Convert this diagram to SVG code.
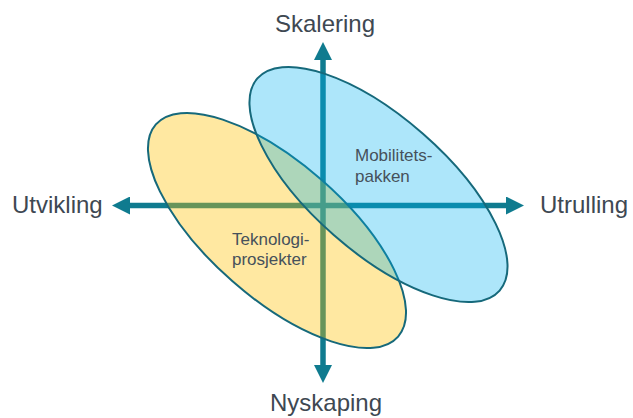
<svg xmlns="http://www.w3.org/2000/svg" width="633" height="418" viewBox="0 0 633 418">
  <style>
    .axis { stroke: #0f7b8f; stroke-width: 5.5; fill: none; }
    .ell { stroke: #16697b; stroke-width: 2; }
    .yellow { fill: #FFC000; fill-opacity: 0.37; }
    .blue { fill: #00B0F0; fill-opacity: 0.32; }
    .big { font-family: "Liberation Sans", Arial, sans-serif; font-size: 24px; fill: #3e4852; }
    .small { font-family: "Liberation Sans", Arial, sans-serif; font-size: 17px; fill: #46515b; }
  </style>
  <defs>
    <marker id="head" viewBox="0 0 18 18" markerWidth="18" markerHeight="18" refX="0" refY="9" orient="auto-start-reverse" markerUnits="userSpaceOnUse">
      <path d="M0,0 L18,9 L0,18 z" fill="#0f7b8f"/>
    </marker>
  </defs>
  <rect width="633" height="418" fill="#ffffff"/>
  <g id="connectors">
    <line class="axis" x1="130" y1="205.5" x2="506" y2="205.5" marker-start="url(#head)" marker-end="url(#head)"/>
    <line class="axis" x1="323" y1="60" x2="323" y2="365" marker-start="url(#head)" marker-end="url(#head)"/>
  </g>
  <g id="teknologiprosjekter">
    <ellipse class="ell yellow" cx="0" cy="0" rx="161" ry="67.5" transform="translate(277,230.5) rotate(41.2)"/>
  </g>
  <g id="mobilitetspakken">
    <ellipse class="ell blue" cx="0" cy="0" rx="161" ry="67.5" transform="translate(378.5,184.5) rotate(41.2)"/>
  </g>
  <g id="labels-ellipses">
    <text class="small" x="355" y="161">Mobilitets-</text>
    <text class="small" x="355" y="182">pakken</text>
    <text class="small" x="232" y="245">Teknologi-</text>
    <text class="small" x="232" y="265">prosjekter</text>
  </g>
  <g id="skalering"><text class="big" x="325" y="32" text-anchor="middle">Skalering</text></g>
  <g id="utvikling"><text class="big" x="12" y="213">Utvikling</text></g>
  <g id="utrulling"><text class="big" x="540" y="213">Utrulling</text></g>
  <g id="nyskaping"><text class="big" x="326" y="411" text-anchor="middle">Nyskaping</text></g>
</svg>
